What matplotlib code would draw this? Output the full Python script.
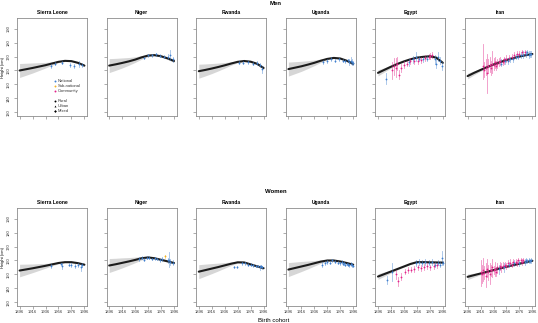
import matplotlib.pyplot as plt

plt.rcParams['font.family'] = ['Liberation Sans', 'DejaVu Sans']

countries = ["Sierra Leone", "Niger", "Rwanda", "Uganda", "Egypt", "Iran"]
fit_years = [1896, 1906, 1916, 1926, 1936, 1946, 1956, 1966, 1976, 1986, 1996]
x_ticks = [1896, 1916, 1936, 1956, 1976, 1996]
y_ticks = [130, 140, 150, 160, 170, 180, 190]

# fitted mean height (cm) by birth cohort, and half width of the grey band
men_fit = {
    "Sierra Leone": [160.0, 160.9, 161.8, 162.8, 163.8, 165.0, 166.2, 166.9, 166.7, 165.5, 163.5],
    "Niger": [163.5, 164.4, 165.4, 166.5, 167.8, 169.4, 170.7, 171.0, 170.2, 168.7, 166.8],
    "Rwanda": [159.5, 160.4, 161.4, 162.5, 163.7, 165.0, 166.2, 166.8, 166.3, 164.8, 161.8],
    "Uganda": [161.0, 162.0, 163.0, 164.2, 165.5, 167.0, 168.3, 169.0, 168.6, 167.0, 164.8],
    "Egypt": [158.3, 160.5, 162.7, 164.7, 166.5, 168.0, 169.2, 169.8, 170.2, 169.2, 165.5],
    "Iran": [156.0, 158.3, 160.4, 162.4, 164.3, 166.0, 167.5, 168.8, 170.0, 171.0, 171.8],
}
men_band = {
    "Sierra Leone": [5.0, 4.3, 3.6, 2.8, 2.0, 1.2, 0.6, 0.4, 0.4, 0.6, 0.8],
    "Niger": [5.0, 4.3, 3.6, 2.8, 2.0, 1.3, 0.7, 0.5, 0.5, 0.8, 1.0],
    "Rwanda": [5.0, 4.3, 3.6, 2.8, 2.0, 1.2, 0.6, 0.4, 0.4, 0.6, 1.0],
    "Uganda": [5.0, 4.3, 3.6, 2.8, 2.0, 1.2, 0.6, 0.4, 0.4, 0.6, 0.9],
    "Egypt": [2.2, 1.5, 1.0, 0.6, 0.4, 0.3, 0.3, 0.3, 0.3, 0.4, 0.6],
    "Iran": [2.0, 1.4, 0.9, 0.6, 0.4, 0.3, 0.3, 0.3, 0.3, 0.4, 0.6],
}
women_fit = {
    "Sierra Leone": [152.8, 153.6, 154.4, 155.3, 156.2, 157.2, 158.2, 158.8, 158.8, 158.1, 157.0],
    "Niger": [156.4, 157.3, 158.3, 159.3, 160.4, 161.6, 162.2, 161.6, 160.5, 159.4, 158.2],
    "Rwanda": [152.0, 153.1, 154.2, 155.3, 156.5, 157.7, 158.7, 158.6, 157.2, 155.8, 154.5],
    "Uganda": [153.5, 154.6, 155.7, 156.8, 158.0, 159.2, 160.0, 160.0, 159.3, 158.2, 157.0],
    "Egypt": [148.5, 150.3, 152.1, 153.9, 155.7, 157.5, 158.8, 158.8, 158.7, 158.6, 158.5],
    "Iran": [148.3, 149.5, 150.7, 151.9, 153.1, 154.3, 155.5, 156.6, 157.7, 158.8, 159.8],
}
women_band = {
    "Sierra Leone": [4.5, 3.8, 3.1, 2.4, 1.7, 1.0, 0.6, 0.4, 0.4, 0.5, 0.7],
    "Niger": [5.0, 4.3, 3.6, 2.8, 2.0, 1.2, 0.6, 0.5, 0.5, 0.6, 0.8],
    "Rwanda": [5.0, 4.3, 3.6, 2.8, 2.0, 1.2, 0.6, 0.4, 0.4, 0.6, 0.8],
    "Uganda": [5.0, 4.3, 3.6, 2.8, 2.0, 1.2, 0.6, 0.4, 0.4, 0.5, 0.7],
    "Egypt": [2.0, 1.5, 1.0, 0.6, 0.4, 0.3, 0.3, 0.3, 0.3, 0.3, 0.5],
    "Iran": [2.0, 1.4, 0.9, 0.6, 0.4, 0.3, 0.3, 0.3, 0.3, 0.3, 0.5],
}

# survey estimates: (birth year, mean, lower, upper, source)
sl_men_obs = [(1944, 163.5, 162, 165, "N"), (1950, 165, 164, 166, "N"), (1962, 165.5, 164.5, 166.5, "N"),
              (1973, 164, 162.5, 165.5, "N"), (1980, 163.5, 162, 165, "N"), (1988, 164.5, 162.5, 166.5, "N"),
              (1993, 164, 162.5, 165.5, "N")]
niger_men_obs = [(1950, 169, 168, 170, "N"), (1956, 171, 170, 172, "N"), (1962, 171, 170, 172, "N"),
                 (1968, 171.5, 170.5, 172.5, "N"), (1974, 170.5, 169.5, 171.5, "N"), (1980, 170, 169, 171, "N"),
                 (1986, 170, 168.5, 171.5, "N"), (1990, 171, 167.5, 174.5, "N"), (1994, 168, 166, 170, "N")]
rwanda_men_obs = [(1958, 165.5, 164.5, 166.5, "N"), (1964, 165.5, 164.5, 166.5, "N"), (1972, 166, 165, 167, "N"),
                  (1980, 165, 164, 166, "N"), (1986, 165.5, 164, 167, "N"), (1990, 164, 162.5, 165.5, "N"),
                  (1994, 161, 158.5, 163.5, "N")]
uganda_men_obs = [(1950, 166, 164.5, 167.5, "N"), (1956, 167, 165.5, 168.5, "N"), (1962, 168.5, 167, 170, "N"),
                  (1968, 167, 166, 168, "N"), (1974, 168, 167, 169, "N"), (1980, 167, 166, 168, "N"),
                  (1984, 166.5, 165.5, 167.5, "N"), (1988, 167.5, 166.5, 168.5, "N"), (1990, 166, 164, 168, "N"),
                  (1992, 167, 164.5, 169.5, "N"), (1994, 166, 164, 168, "N"), (1996, 165.5, 164, 167, "N")]
egypt_men_obs = [(1908, 154, 150, 158, "N"), (1918, 160, 154, 166, "C"), (1920, 163, 157, 169, "C"),
                 (1924, 162, 155, 169, "C"), (1926, 165, 160, 170, "C"), (1929, 157, 154, 160, "C"),
                 (1932, 162, 159, 165, "C"), (1936, 164, 161.5, 166.5, "C"), (1940, 165, 163, 167, "C"),
                 (1944, 166, 163.5, 168.5, "N"), (1946, 167, 165, 169, "C"), (1950, 168, 165.5, 170.5, "N"),
                 (1952, 167, 165, 169, "C"), (1955, 170, 166.5, 173.5, "N"), (1958, 167, 165, 169, "C"),
                 (1960, 168.5, 166.5, 170.5, "N"), (1963, 167.5, 165.5, 169.5, "C"), (1966, 168, 166, 170, "N"),
                 (1968, 169, 167, 171, "C"), (1972, 168.5, 166.5, 170.5, "N"), (1974, 170, 168, 172, "C"),
                 (1977, 170.5, 168.5, 172.5, "C"), (1980, 171, 169, 173, "C"), (1984, 168, 165, 171, "N"),
                 (1986, 165, 162, 168, "N"), (1988, 170, 167, 173, "N"), (1991, 167, 164.5, 169.5, "N"),
                 (1994, 163, 160, 166, "N")]
iran_men_obs = [(1920, 163, 154, 179, "C"), (1922, 160, 155, 166, "C"), (1924, 162, 157, 168, "C"),
                (1926, 158, 144, 172, "C"), (1928, 163, 158, 168, "C"), (1930, 164, 159, 170, "C"),
                (1932, 162, 157, 167, "C"), (1934, 165, 158, 174, "C"), (1936, 164, 160, 169, "C"),
                (1938, 166, 162, 170, "C"), (1940, 163, 160, 167, "C"), (1942, 165, 162, 168, "C"),
                (1944, 166, 163, 169, "C"), (1946, 167, 164, 170, "C"), (1948, 165, 163, 168, "N"),
                (1950, 166, 164, 168, "C"), (1952, 168, 165, 170, "C"), (1954, 167, 165, 169, "N"),
                (1956, 168, 166, 171, "C"), (1958, 167, 165, 169, "N"), (1960, 169, 167, 171, "C"),
                (1962, 168, 166, 170, "N"), (1964, 170, 168, 172, "C"), (1966, 168, 166, 170, "N"),
                (1968, 171, 169, 173, "C"), (1970, 170, 168, 172, "N"), (1972, 172, 170, 174, "C"),
                (1974, 170, 168, 172, "N"), (1976, 172, 170, 174, "C"), (1978, 171, 169, 173, "N"),
                (1980, 173, 171, 175, "C"), (1982, 171, 169, 174, "N"), (1984, 173, 171, 175, "C"),
                (1986, 172, 170, 174, "N"), (1988, 173, 171, 175, "N"), (1990, 171, 169, 174, "N"),
                (1992, 172, 170, 174, "N"), (1994, 172, 170, 174, "N")]

sl_women_obs = [(1944, 156, 154.5, 157.5, "N"), (1960, 157.5, 156.5, 158.5, "N"), (1962, 156, 154, 158, "N"),
                (1972, 157, 156, 158, "N"), (1976, 156.5, 155, 158, "N"), (1982, 156, 154.5, 157.5, "N"),
                (1986, 157, 155.5, 158.5, "N"), (1990, 155, 152.5, 157.5, "N"), (1993, 156.5, 155, 158, "N")]
niger_women_obs = [(1942, 161, 159.5, 162.5, "N"), (1946, 162, 161, 163, "N"), (1950, 160.5, 159.5, 161.5, "N"),
                   (1954, 162, 161, 163, "N"), (1958, 162, 161, 163, "N"), (1962, 161, 160, 162, "N"),
                   (1966, 161.5, 160.5, 162.5, "N"), (1970, 161, 160, 162, "N"), (1974, 160, 159, 161, "N"),
                   (1978, 161, 159.5, 162.5, "N"), (1982, 163, 162, 164, "S"), (1986, 160, 158.5, 161.5, "N"),
                   (1988, 160.5, 155.5, 166, "N"), (1990, 159, 157, 161, "N"), (1994, 158.5, 157, 160, "N")]
rwanda_women_obs = [(1950, 155.5, 154.7, 156.3, "N"), (1955, 155.5, 154.7, 156.3, "N"), (1962, 158, 157, 159, "N"),
                    (1968, 158, 157, 159, "N"), (1972, 157, 156, 158, "N"), (1976, 157, 156, 158, "N"),
                    (1980, 156.5, 155.5, 157.5, "N"), (1984, 156, 155, 157, "N"), (1988, 156, 155, 157, "N"),
                    (1990, 155, 153.5, 156.5, "N"), (1992, 156, 155, 157, "N"), (1994, 155, 154, 156, "N")]
uganda_women_obs = [(1948, 157, 155, 159, "N"), (1952, 158, 156.5, 159.5, "N"), (1956, 159, 157.5, 160.5, "N"),
                    (1960, 158.5, 157.5, 159.5, "N"), (1964, 160, 159, 161, "N"), (1968, 159, 158, 160, "N"),
                    (1972, 158.5, 157.5, 159.5, "N"), (1976, 158, 157, 159, "N"), (1978, 159, 158, 160, "N"),
                    (1980, 157.5, 156.5, 158.5, "N"), (1982, 158, 157, 159, "N"), (1984, 157, 156, 158, "N"),
                    (1986, 157.5, 156.5, 158.5, "N"), (1988, 157, 156, 158, "N"), (1990, 156.5, 155.5, 157.5, "N"),
                    (1992, 157.5, 156, 159, "N"), (1994, 156.5, 155, 158, "N"), (1996, 156, 155, 157, "N")]
egypt_women_obs = [(1910, 146, 143, 149, "N"), (1918, 152, 145, 158, "N"), (1924, 150, 147, 153, "C"),
                   (1927, 145, 142, 148, "C"), (1932, 148.5, 146, 151, "C"), (1937, 152, 150, 154, "C"),
                   (1942, 153, 151, 155, "C"), (1947, 153.5, 151.5, 155.5, "C"), (1952, 154, 152, 156, "C"),
                   (1954, 158, 156, 160, "N"), (1957, 155, 153, 157, "C"), (1959, 159, 157, 161, "N"),
                   (1962, 154.5, 152.5, 156.5, "C"), (1964, 158, 156, 160, "N"), (1967, 155.5, 153.5, 157.5, "C"),
                   (1969, 159, 157, 161, "N"), (1972, 156, 154, 158, "C"), (1974, 158.5, 156.5, 160.5, "N"),
                   (1977, 155, 153, 157, "C"), (1979, 159, 157, 161, "N"), (1982, 156, 154, 158, "C"),
                   (1984, 157, 155, 159, "N"), (1987, 156.5, 154.5, 158.5, "C"), (1989, 158.5, 156.5, 160.5, "N"),
                   (1991, 157, 155, 159, "N"), (1994, 162, 157, 167, "N"), (1996, 158, 156.5, 159.5, "N")]
iran_women_obs = [(1916, 152, 142, 160, "C"), (1918, 150, 144, 157, "C"), (1920, 153, 145, 162, "C"),
                  (1922, 151, 147, 156, "C"), (1924, 149, 141, 158, "C"), (1926, 154, 148, 161, "C"),
                  (1928, 152, 146, 157, "C"), (1930, 150, 143, 158, "C"), (1932, 153, 149, 157, "C"),
                  (1934, 155, 148, 161, "C"), (1936, 153, 150, 156, "C"), (1938, 154, 149, 159, "C"),
                  (1940, 152, 149, 155, "C"), (1942, 155, 151, 158, "C"), (1944, 154, 150, 157, "N"),
                  (1946, 156, 153, 159, "C"), (1948, 155, 152, 158, "C"), (1950, 156, 154, 159, "C"),
                  (1952, 155, 152, 158, "N"), (1954, 157, 155, 159, "C"), (1956, 156, 154, 158, "C"),
                  (1958, 158, 155, 160, "C"), (1960, 157, 155, 159, "N"), (1962, 158, 156, 161, "C"),
                  (1964, 157, 155, 159, "C"), (1966, 159, 157, 161, "C"), (1968, 158, 156, 160, "N"),
                  (1970, 159, 157, 161, "C"), (1972, 158, 156, 160, "C"), (1974, 160, 158, 162, "C"),
                  (1976, 158, 156, 160, "N"), (1978, 160, 158, 162, "C"), (1980, 159, 157, 161, "C"),
                  (1982, 160, 158, 162, "C"), (1984, 159, 157, 161, "N"), (1986, 160, 158, 162, "N"),
                  (1988, 159.5, 158, 161, "N"), (1990, 160, 158, 162, "N"), (1992, 159.5, 158, 161, "N"),
                  (1994, 160, 158, 162, "N")]

men_obs = {"Sierra Leone": sl_men_obs, "Niger": niger_men_obs, "Rwanda": rwanda_men_obs,
           "Uganda": uganda_men_obs, "Egypt": egypt_men_obs, "Iran": iran_men_obs}
women_obs = {"Sierra Leone": sl_women_obs, "Niger": niger_women_obs, "Rwanda": rwanda_women_obs,
             "Uganda": uganda_women_obs, "Egypt": egypt_women_obs, "Iran": iran_women_obs}

src_colors = {"N": "#3f7fcf", "S": "#f0b323", "C": "#e2248a"}
legend_sources = [("National", "N"), ("Sub-national", "S"), ("Community", "C")]
legend_settings = [("Rural", "o"), ("Urban", "^"), ("Mixed", "D")]

BOX = "#8c8c8c"
W, H = 538, 323


def drawPanel(ax, fit, band, obs):
    lower = [f - b for f, b in zip(fit, band)]
    upper = [f + b for f, b in zip(fit, band)]
    ax.fill_between(fit_years, lower, upper, color="#d6d6d6", lw=0, zorder=1)
    ax.plot(fit_years, fit, color="#1c1c1c", lw=1.5, solid_capstyle="round", zorder=2)
    for year, mean, lo, hi, src in obs:
        ax.plot([year, year], [lo, hi], color=src_colors[src], lw=0.6, alpha=0.5, zorder=3)
        ax.plot(year, mean, "o", color=src_colors[src], ms=1.3, mew=0, zorder=4)

    ax.set_xlim(1892, 2000)
    ax.set_ylim(127.4, 197.6)
    ax.set_xticks(x_ticks)
    ax.set_yticks(y_ticks)
    ax.tick_params(direction="out", length=2, width=0.5, color=BOX, labelsize=3,
                   labelcolor="#333333", pad=1)
    ax.tick_params(axis="y", labelrotation=90, pad=2.5)
    for label in ax.get_yticklabels():
        label.set_va("center")
    for spine in ax.spines.values():
        spine.set_color(BOX)
        spine.set_linewidth(0.6)


fig = plt.figure(figsize=(W / 100, H / 100), dpi=100)

rows = [(men_fit, men_band, men_obs, 116), (women_fit, women_band, women_obs, 306)]
for r, (fits, bands, obs, bottom_px) in enumerate(rows):
    for c, country in enumerate(countries):
        left_px = 17 + 89.6 * c
        ax = fig.add_axes([left_px / W, (H - bottom_px) / H, 70 / W, 98 / H])
        drawPanel(ax, fits[country], bands[country], obs[country])
        ax.set_title(country, fontsize=3.6, fontweight="bold", pad=3)
        if c > 0:
            ax.tick_params(axis="y", labelleft=False)
        else:
            ax.set_ylabel("Height (cm)", fontsize=2.9, labelpad=1.5)
        if r == 0:
            ax.tick_params(axis="x", labelbottom=False)

        if r == 0 and c == 0:
            ypos = [0.357, 0.306, 0.256]
            for (name, src), yy in zip(legend_sources, ypos):
                ax.plot(0.54, yy, "o", color=src_colors[src], ms=1.4, mew=0, transform=ax.transAxes)
                ax.text(0.58, yy, name, fontsize=3, color="#333333", va="center", transform=ax.transAxes)
            ypos = [0.148, 0.098, 0.054]
            for (name, mk), yy in zip(legend_settings, ypos):
                ax.plot(0.54, yy, mk, color="black", ms=1.4, mew=0, transform=ax.transAxes)
                ax.text(0.58, yy, name, fontsize=3, color="#333333", va="center", transform=ax.transAxes)

fig.text(276 / W, 1 - 3.5 / H, "Men", fontsize=4.3, fontweight="bold", ha="center", va="center")
fig.text(276 / W, 1 - 191.7 / H, "Women", fontsize=4.3, fontweight="bold", ha="center", va="center")
fig.text(274 / W, 1 - 320 / H, "Birth cohort", fontsize=4.4, ha="center", va="center")

fig.savefig("out.png", dpi=100)
